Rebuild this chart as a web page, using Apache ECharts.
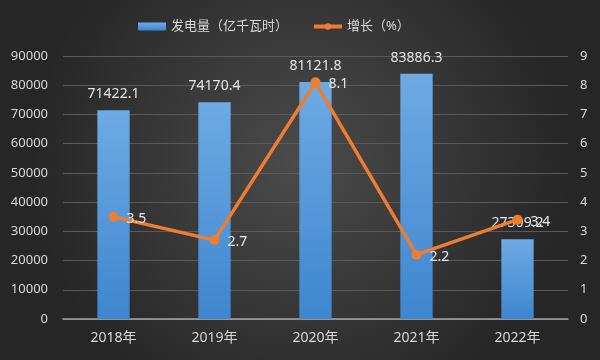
<!DOCTYPE html>
<html><head><meta charset="utf-8">
<script src="https://cdn.jsdelivr.net/npm/echarts@6/dist/echarts.min.js"></script>
<style>html,body{margin:0;padding:0;background:#333}#c{width:600px;height:360px}</style>
</head><body><div id="c"></div>
<script>
const categories = ['2018年','2019年','2020年','2021年','2022年'];
const generation = [71422.1, 74170.4, 81121.8, 83886.3, 27309.2];
const growth = [3.5, 2.7, 8.1, 2.2, 3.4];
const leftTicks = [0, 90000, 10000];
const rightTicks = [0, 9, 1];

const chart = echarts.init(document.getElementById('c'));
const font = '"Noto Sans","Noto Sans CJK SC",sans-serif';
chart.setOption({
  backgroundColor: {
    type: 'radial', x: 0.5, y: 0.45, r: 0.75,
    colorStops: [{offset: 0, color: '#4b4b4b'}, {offset: 1, color: '#262626'}]
  },
  textStyle: {fontFamily: font},
  legend: {
    top: 15, left: 133, itemGap: 24, itemWidth: 28, itemHeight: 8,
    textStyle: {color: '#d9d9d9', fontSize: 13, fontFamily: font},
    data: [
      {name: '发电量（亿千瓦时）', icon: 'rect'},
      {name: '增长（%）', lineStyle: {width: 4}, itemStyle: {borderWidth: 0}}
    ]
  },
  grid: {left: 63, right: 32, top: 56, bottom: 41},
  xAxis: {
    type: 'category', data: categories,
    axisLine: {lineStyle: {color: '#a6a6a6', width: 1.5}},
    axisTick: {show: false},
    axisLabel: {color: '#d9d9d9', fontSize: 14, margin: 12}
  },
  yAxis: [
    {type: 'value', min: leftTicks[0], max: leftTicks[1], interval: leftTicks[2],
     axisLine: {show: false}, axisTick: {show: false},
     axisLabel: {color: '#d9d9d9', fontSize: 13, margin: 15, formatter: v => String(v)},
     splitLine: {lineStyle: {color: '#5a5a5a', width: 1}}},
    {type: 'value', min: rightTicks[0], max: rightTicks[1], interval: rightTicks[2],
     axisLine: {show: false}, axisTick: {show: false},
     axisLabel: {color: '#d9d9d9', fontSize: 13, margin: 12},
     splitLine: {show: false}}
  ],
  series: [
    {name: '发电量（亿千瓦时）', type: 'bar', data: generation, barWidth: '32%',
     itemStyle: {color: {type: 'linear', x: 0, y: 0, x2: 0, y2: 1,
       colorStops: [{offset: 0, color: '#6eaae4'}, {offset: 1, color: '#3e86cf'}]}},
     label: {show: true, position: 'top', distance: 9, color: '#e6e6e6', fontSize: 14,
       formatter: p => p.value.toFixed(1)}},
    {name: '增长（%）', type: 'line', yAxisIndex: 1, data: growth,
     lineStyle: {color: '#ed7d31', width: 3.5},
     itemStyle: {color: '#ed7d31'},
     symbol: 'circle', symbolSize: 10,
     label: {show: true, position: 'right', distance: 8, color: '#e6e6e6', fontSize: 14,
       formatter: p => p.value.toFixed(1), offset: [0, 2]}}
  ]
});
</script></body></html>
